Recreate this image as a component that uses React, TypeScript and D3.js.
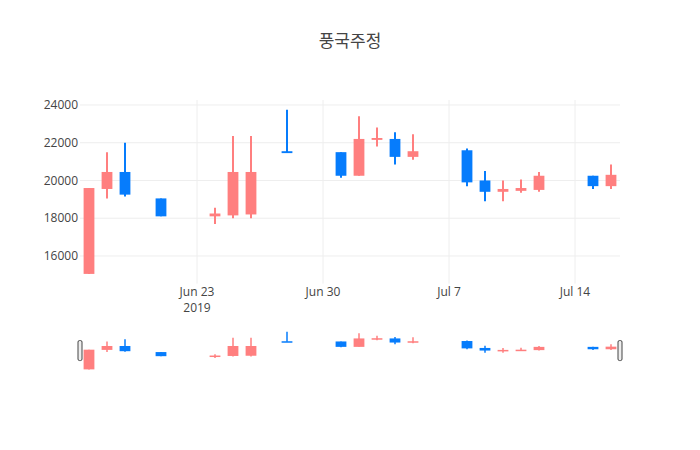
import React from 'react';
import * as d3 from 'd3';

// daily candles, 풍국주정, Jun 17 - Jul 16 2019
const dates = [
  '2019-06-17', '2019-06-18', '2019-06-19', '2019-06-21', '2019-06-24',
  '2019-06-25', '2019-06-26', '2019-06-28', '2019-07-01', '2019-07-02',
  '2019-07-03', '2019-07-04', '2019-07-05', '2019-07-08', '2019-07-09',
  '2019-07-10', '2019-07-11', '2019-07-12', '2019-07-15', '2019-07-16',
];
const opens = [15050, 19550, 20450, 19050, 18100, 18150, 18200, 21550, 21500, 20250, 22150, 22200, 21250, 21600, 20000, 19400, 19450, 19500, 20250, 19700];
const highs = [19600, 21500, 22000, 19050, 18550, 22350, 22350, 23750, 21500, 23400, 22800, 22550, 22450, 21700, 20500, 20000, 20050, 20450, 20250, 20850];
const lows = [15050, 19050, 19150, 18100, 17700, 18000, 18000, 21450, 20150, 20250, 21800, 20850, 21100, 19700, 18900, 18900, 19350, 19400, 19550, 19550];
const closes = [19600, 20450, 19250, 18100, 18250, 20450, 20450, 21450, 20250, 22200, 22250, 21250, 21550, 19900, 19400, 19550, 19600, 20250, 19700, 20300];

const title = '풍국주정';

const W = 700;
const H = 450;
const margin = { left: 80, right: 80, top: 100 };
const plotBottom = 283.6;
const sliderTop = 329.5;
const sliderBottom = 371.6;

const UP = '#ff7f7f';
const DOWN = '#067cfc';
const FONT = '"Open Sans", "Noto Sans CJK KR", sans-serif';

const parse = d3.timeParse('%Y-%m-%d');

const App = () => {
  const data = dates.map((d, i) => ({
    date: parse(d) as Date,
    open: opens[i],
    high: highs[i],
    low: lows[i],
    close: closes[i],
  }));

  const first = data[0].date;
  const last = data[data.length - 1].date;
  const x = d3.scaleTime()
    .domain([d3.timeHour.offset(first, -12), d3.timeHour.offset(last, 12)])
    .range([margin.left, W - margin.right]);

  const lo = d3.min(lows) || 0;
  const hi = d3.max(highs) || 0;
  const pad = (hi - lo) * 0.059;
  const domain: [number, number] = [lo - pad, hi + pad];
  const y = d3.scaleLinear().domain(domain).range([plotBottom, margin.top]);
  const ys = d3.scaleLinear().domain(domain).range([sliderBottom, sliderTop]);

  const dayPx = x(d3.timeDay.offset(first, 1)) - x(first);
  const bw = dayPx * 0.6;

  const xTicks = x.ticks(d3.timeWeek);
  const yTicks = y.ticks(5).filter(t => t > domain[0] && t < domain[1]);
  const fmt = d3.timeFormat('%b %-d');

  const candles = (scale: d3.ScaleLinear<number, number>, wick: number) =>
    data.map((d, i) => {
      const c = d.close >= d.open ? UP : DOWN;
      const cx = x(d.date);
      const top = scale(Math.max(d.open, d.close));
      const bot = scale(Math.min(d.open, d.close));
      return (
        <g key={i}>
          <line x1={cx} x2={cx} y1={scale(d.high)} y2={scale(d.low)} stroke={c} strokeWidth={wick} />
          <rect x={cx - bw / 2} y={top} width={bw} height={Math.max(bot - top, 1.5)} fill={c} />
        </g>
      );
    });

  return (
    <svg width={W} height={H} style={{ position: 'absolute', left: 0, top: 0, background: '#fff' }} fontFamily={FONT}>
      {/* grid */}
      {yTicks.map(t => (
        <line key={'gy' + t} x1={margin.left} x2={W - margin.right} y1={y(t)} y2={y(t)} stroke="#eee" />
      ))}
      {xTicks.map(t => (
        <line key={'gx' + t.getTime()} x1={x(t)} x2={x(t)} y1={margin.top} y2={plotBottom} stroke="#eee" />
      ))}

      {candles(y, 2)}

      {/* y axis labels */}
      {yTicks.map(t => (
        <text key={'ly' + t} x={margin.left - 2} y={y(t)} dy="0.35em" textAnchor="end" fontSize={12} fill="#444">
          {t}
        </text>
      ))}
      {/* x axis labels */}
      {xTicks.map((t, i) => (
        <text key={'lx' + t.getTime()} x={x(t)} y={plotBottom + 12.5} textAnchor="middle" fontSize={12} fill="#444">
          <tspan x={x(t)}>{fmt(t)}</tspan>
          {i === 0 && <tspan x={x(t)} dy="1.3em">{d3.timeFormat('%Y')(t)}</tspan>}
        </text>
      ))}

      {/* range slider */}
      <g>
        {candles(ys, 1.5)}
        {[margin.left, W - margin.right].map(hx => (
          <rect key={hx} x={hx - 2} y={(sliderTop + sliderBottom) / 2 - 10} width={4} height={20}
            rx={1.5} fill="#eee" stroke="#444" strokeWidth={1} />
        ))}
      </g>

      <text x={W / 2} y={47} textAnchor="middle" fontSize={17} fill="#444">{title}</text>
    </svg>
  );
};

export default App;
